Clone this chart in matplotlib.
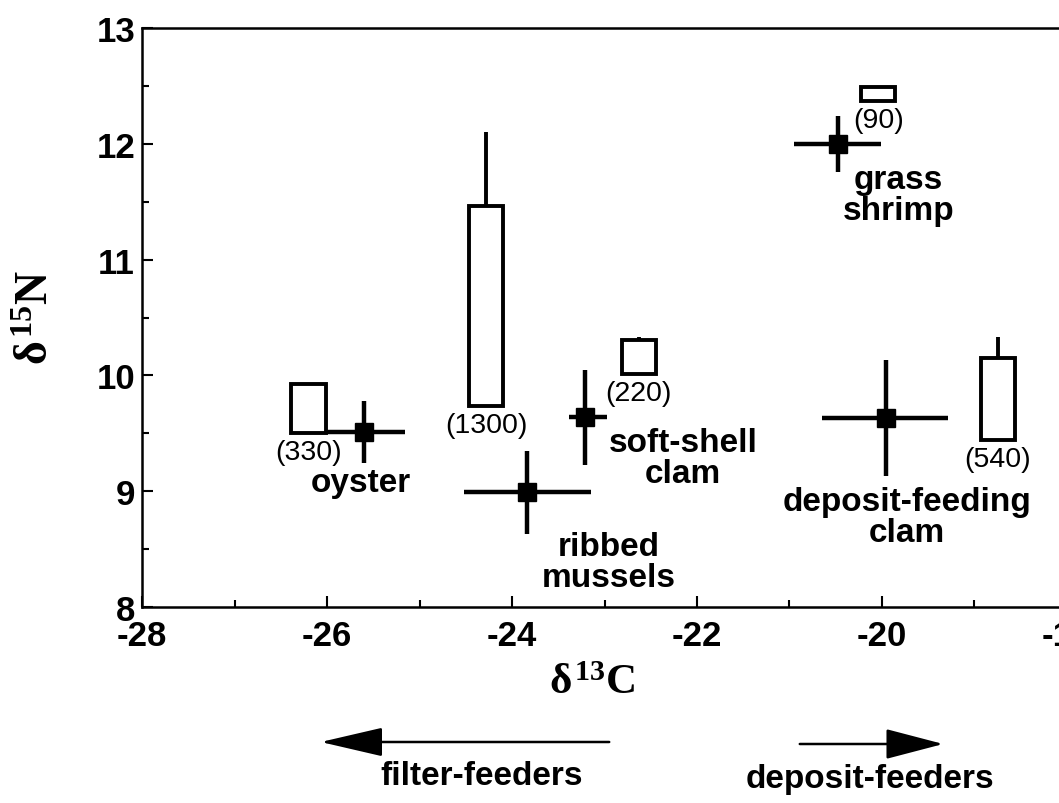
import numpy as np
import matplotlib
matplotlib.use('Agg')
import matplotlib.pyplot as plt

plt.rcParams['font.family'] = ['Liberation Sans', 'DejaVu Sans']
plt.rcParams['mathtext.fontset'] = 'custom'
plt.rcParams['mathtext.rm'] = 'Liberation Serif:bold'
plt.rcParams['mathtext.it'] = 'Liberation Serif:bold'
plt.rcParams['mathtext.bf'] = 'Liberation Serif:bold'

# consumer means with ranges
species = ['oyster', 'ribbed\nmussels', 'soft-shell\nclam', 'deposit-feeding\nclam', 'grass\nshrimp']
c13 = [-25.60, -23.84, -23.21, -19.96, -20.48]
c13_lo = [0.40, 0.68, 0.17, 0.69, 0.47]
c13_hi = [0.44, 0.69, 0.24, 0.67, 0.47]
n15 = [9.51, 8.99, 9.64, 9.63, 12.00]
n15_err = [0.27, 0.36, 0.41, 0.50, 0.24]

# source boxes
box_c13 = [-26.20, -24.28, -22.63, -20.04, -18.75]
box_low = [9.50, 9.74, 10.01, 12.37, 9.44]
box_high = [9.93, 11.46, 10.31, 12.49, 10.15]
box_whisker = [None, 12.10, 10.33, None, 10.33]
box_n = ['(330)', '(1300)', '(220)', '(90)', '(540)']

# label offsets in pixels from the cross centre
label_off = [(-3, -50), (82, -70), (98, -41), (21, -99), (61, -51)]

fig = plt.figure(figsize=(10.59, 8.04), dpi=100)
ax = fig.add_axes([142 / 1059, (804 - 608) / 804, 925 / 1059, (608 - 29) / 804])

heights = np.array(box_high) - np.array(box_low)
ax.bar(box_c13, heights, bottom=box_low, width=0.37, fill=False,
       edgecolor='k', linewidth=2.8, zorder=2)
for x, lo, w in zip(box_c13, box_high, box_whisker):
    if w is not None:
        ax.vlines(x, lo, w, color='k', linewidth=2.8, zorder=2)
for x, lo, t in zip(box_c13, box_low, box_n):
    ax.annotate(t, (x, lo), xytext=(0, -19), textcoords='offset pixels',
                ha='center', va='center', fontsize=20.5, fontweight='normal')

ax.errorbar(c13, n15, xerr=[c13_lo, c13_hi], yerr=n15_err, fmt='s', color='k',
            ms=13, elinewidth=3.2, capsize=0, zorder=3)
for x, y, s, off in zip(c13, n15, species, label_off):
    ax.annotate(s, (x, y), xytext=off, textcoords='offset pixels',
                ha='center', va='center', fontsize=24, fontweight='bold',
                linespacing=1.0)

ax.set_xlim(-28, -18)
ax.set_ylim(8, 13)
ax.set_xticks(np.arange(-28, -17, 2))
ax.set_xticks(np.arange(-27, -18, 2), minor=True)
ax.set_yticks(np.arange(8, 14, 1))
ax.set_yticks(np.arange(8.5, 13, 1), minor=True)
ax.tick_params(which='both', direction='in', width=1.5)
ax.tick_params(which='major', length=8)
ax.tick_params(which='minor', length=5)
ax.tick_params(axis='x', pad=9)
ax.tick_params(axis='y', pad=5)
ax.set_xticklabels(['-28', '-26', '-24', '-22', '-20', '-18'])
ax.set_yticklabels(['8', '9', '10', '11', '12', '13'])
for lab in ax.get_xticklabels() + ax.get_yticklabels():
    lab.set_fontsize(25)
    lab.set_fontweight('bold')
for sp in ax.spines.values():
    sp.set_linewidth(1.8)

fig.text(36 / 1059, 1 - 318 / 804, r'$\delta^{15}\mathrm{N}$', rotation=90,
         ha='center', va='center', fontsize=33)
fig.text(592 / 1059, 1 - 683 / 804, r'$\delta^{13}\mathrm{C}$',
         ha='center', va='center', fontsize=31)

ax.annotate('', xy=(318, 61), xytext=(612, 61), xycoords='figure pixels',
            textcoords='figure pixels',
            arrowprops=dict(arrowstyle='-|>,head_length=2.8,head_width=0.65',
                            mutation_scale=14, color='k', lw=1.8))
ax.annotate('', xy=(946, 59), xytext=(797, 59), xycoords='figure pixels',
            textcoords='figure pixels',
            arrowprops=dict(arrowstyle='-|>,head_length=2.6,head_width=0.68',
                            mutation_scale=14, color='k', lw=1.8))
fig.text(482 / 1059, 1 - 777 / 804, 'filter-feeders', ha='center', va='center',
         fontsize=24, fontweight='bold')
fig.text(870 / 1059, 1 - 780 / 804, 'deposit-feeders', ha='center', va='center',
         fontsize=24, fontweight='bold')

fig.savefig('out.png', dpi=100)
